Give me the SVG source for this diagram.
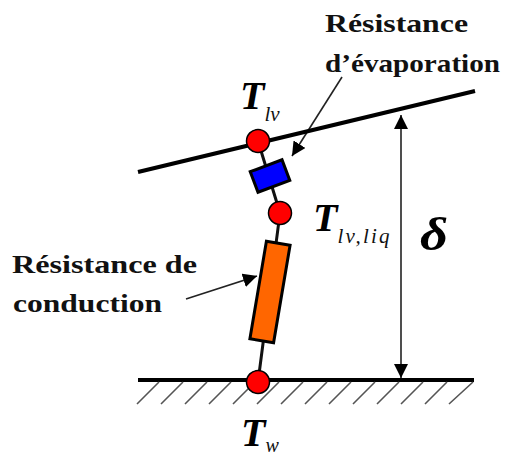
<svg xmlns="http://www.w3.org/2000/svg" width="517" height="457" viewBox="0 0 517 457">
<style>
.l{font-family:"Liberation Serif","Times New Roman",serif;font-size:26px;font-weight:bold;fill:#111}
.T{font-family:"Liberation Serif","Times New Roman",serif;font-size:40px;font-weight:bold;font-style:italic;fill:#000}
.s{font-family:"Liberation Serif","Times New Roman",serif;font-size:21px;font-style:italic;fill:#111}
.n{fill:#f00;stroke:#000;stroke-width:1.5}
.h{stroke:#555;stroke-width:1.6;fill:none}
.a{stroke:#222;stroke-width:1.6;fill:none}
.w{stroke:#000;stroke-width:4;fill:none}
.c{stroke:#111;stroke-width:3;fill:none}
</style>
<defs>
<marker id="ah" viewBox="0 0 14 14" refX="14" refY="7" markerWidth="14" markerHeight="14" markerUnits="userSpaceOnUse" orient="auto-start-reverse"><path d="M0 0L14 7L0 14Z" fill="#000"/></marker>
</defs>
<g id="connectors">
<path class="c" d="M258 141L280 213L258 382"/>
<path class="a" d="M342 77L292 156" marker-end="url(#ah)"/>
<path class="a" d="M186 299L257 276" marker-end="url(#ah)"/>
<path class="a" d="M401 115V378" marker-start="url(#ah)" marker-end="url(#ah)"/>
</g>
<g id="top-surface"><path class="w" d="M138 172L475 91"/></g>
<g id="wall">
<path class="w" d="M138 380H474"/>
<path class="h" d="M159 382L137 404M183 382L161 404M207 382L185 404M231 382L209 404M255 382L233 404M279 382L257 404M303 382L281 404M327 382L305 404M351 382L329 404M375 382L353 404M399 382L377 404M423 382L401 404M447 382L425 404M473 382L449 404"/>
</g>
<g id="node-evap"><rect x="253" y="165" width="34" height="22" fill="#00f" stroke="#000" stroke-width="3" transform="rotate(-20.7 270 176)"/></g>
<g id="node-cond"><rect x="258" y="242.500" width="24" height="99" fill="#f60" stroke="#000" stroke-width="3" transform="rotate(9.600 270 292)"/></g>
<g id="node-tlv"><circle class="n" cx="258" cy="141" r="11.500"/></g>
<g id="node-tlvliq"><circle class="n" cx="280" cy="213" r="11.500"/></g>
<g id="node-tw"><circle class="n" cx="258" cy="382" r="11.500"/></g>
<g id="label-evap">
<text class="l" x="325" y="32" textLength="143" lengthAdjust="spacingAndGlyphs">Résistance</text>
<text class="l" x="325" y="72" textLength="175" lengthAdjust="spacingAndGlyphs">d’évaporation</text>
</g>
<g id="label-cond">
<text class="l" x="12" y="273" textLength="185" lengthAdjust="spacingAndGlyphs">Résistance de</text>
<text class="l" x="13" y="312" textLength="149" lengthAdjust="spacingAndGlyphs">conduction</text>
</g>
<g id="label-Tlv"><text class="T" x="240" y="109">T</text><text class="s" x="264.500" y="121">lv</text></g>
<g id="label-Tlvliq"><text class="T" x="313" y="231">T</text><text class="s" x="337.500" y="243" textLength="52" lengthAdjust="spacing">lv,liq</text></g>
<g id="label-Tw"><text class="T" x="241" y="446">T</text><text class="s" x="265.500" y="452" style="font-size:20px">w</text></g>
<text id="label-delta" x="420" y="250" font-family="'Liberation Serif',serif" font-size="46" font-weight="bold" font-style="italic" fill="#000" textLength="28" lengthAdjust="spacingAndGlyphs">δ</text>
</svg>
